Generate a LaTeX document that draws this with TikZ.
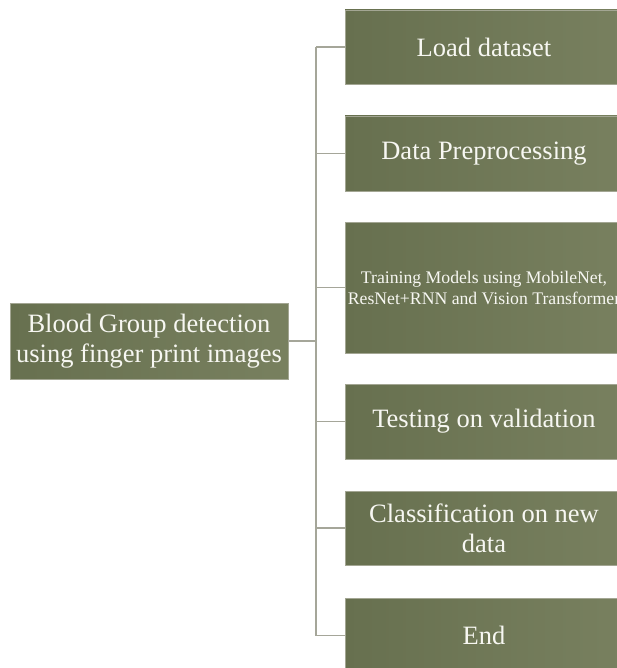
\documentclass[tikz,border=0pt]{standalone}
\usepackage{fontspec}
\setmainfont{Liberation Serif}
\definecolor{boxA}{HTML}{67704F}
\definecolor{boxB}{HTML}{78805F}
\definecolor{boxline}{HTML}{A3A693}
\definecolor{linecol}{HTML}{A5A699}
\definecolor{txt}{HTML}{F7F7F2}
\begin{document}
\begin{tikzpicture}[x=1pt,y=-1pt,
  boxst/.style={draw=boxline, line width=0.8pt, left color=boxA, right color=boxB,
    text=txt, align=center, inner sep=0pt, minimum width=278pt,
    font=\fontsize{26.5}{30}\selectfont},
  small/.style={font=\fontsize{17.7}{21}\selectfont},
  conn/.style={draw=linecol, line width=1.5pt}]
\useasboundingbox (0,0) rectangle (616,668);
\node[boxst, minimum height=76pt] (main) at (149,341) {Blood Group detection\\using finger print images};
\node[boxst, minimum height=74pt] (load) at (484,47) {Load dataset};
\node[boxst, minimum height=75pt] (prep) at (484,153.5) {Data Preprocessing};
\node[boxst, small, minimum height=131pt] (train) at (484,287.5) {Training Models using MobileNet,\\ResNet+RNN and Vision Transformer};
\node[boxst, minimum height=75pt] (test) at (484,421.5) {Testing on validation};
\node[boxst, minimum height=74pt] (class) at (484,528) {Classification on new\\data};
\node[boxst, minimum height=75pt] (end) at (484,635.5) {End};
\coordinate (trunk) at (316,0);
\draw[conn] (load.west -| trunk) -- (end.west -| trunk);
\draw[conn] (main.east) -- (main.east -| trunk);
\foreach \b in {load,prep,train,test,class,end}{
  \draw[conn] (\b.west -| trunk) -- (\b.west);
}
\end{tikzpicture}
\end{document}
